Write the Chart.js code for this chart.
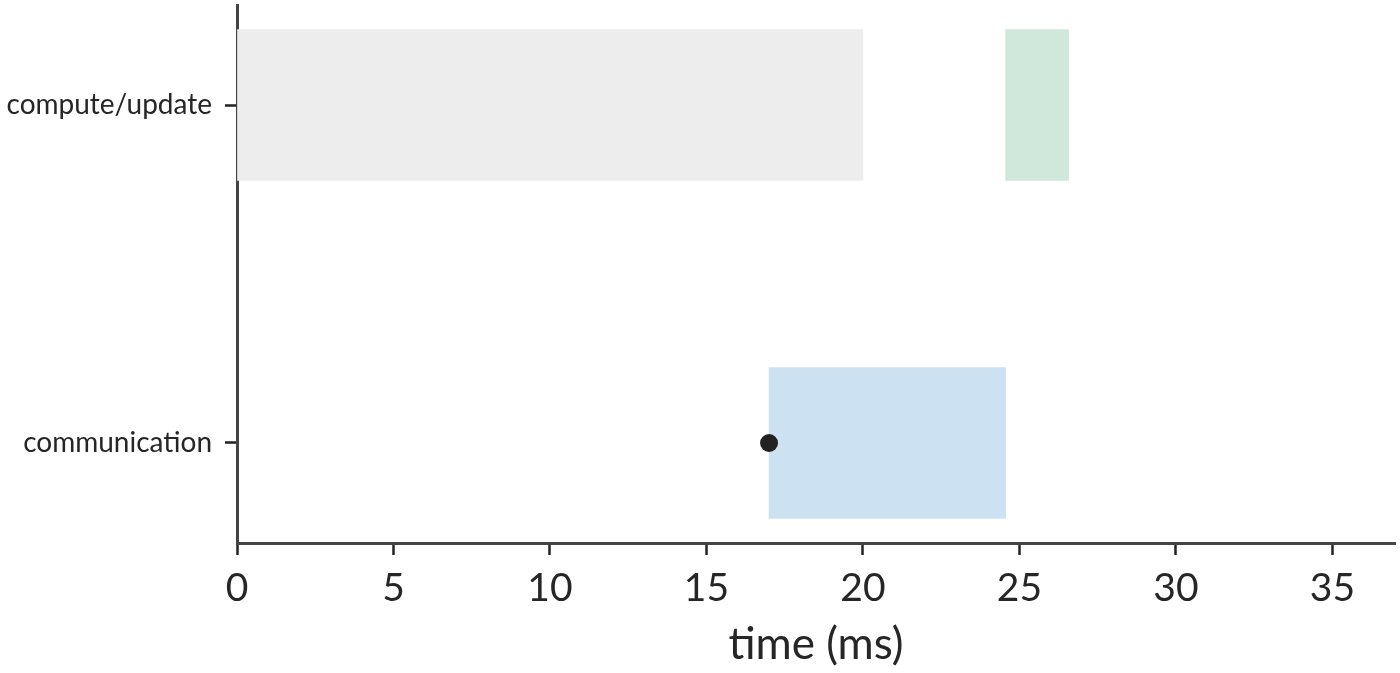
<!DOCTYPE html>
<html>
<head>
<meta charset="utf-8">
<script src="https://cdn.jsdelivr.net/npm/chart.js@4.4.1/dist/chart.umd.min.js"></script>
<style>
  html, body { margin: 0; padding: 0; background: #fff; }
  #wrap { width: 1400px; height: 673px; position: relative; }
</style>
</head>
<body>
<div id="wrap"><canvas id="timeline"></canvas></div>
<script>
// lanes of the timeline (top to bottom)
const lanes = ['compute/update', 'communication'];

// spans in ms: [start, end] and the lane they sit on
const spanStart = [0, 24.56, 17.0];
const spanEnd = [20.0, 26.57, 24.56];
const spanLane = [0, 0, 1];
const spanColors = ['#ededed', '#d0e8db', '#cce2f2'];

// marker on the communication lane
const markerTime = [17.0];
const markerLane = [1];

const xTicks = [0, 5, 10, 15, 20, 25, 30, 35];

const textColor = '#262626';
const fontFamily = 'Lato, "Noto Sans", sans-serif';

const spans = spanStart.map((s, i) => ({ x: [s, spanEnd[i]], y: spanLane[i] }));
const markers = markerTime.map((t, i) => ({ x: t, y: markerLane[i] }));

new Chart(document.getElementById('timeline').getContext('2d'), {
  type: 'bar',
  data: {
    datasets: [
      {
        type: 'bar',
        data: spans,
        backgroundColor: spanColors,
        borderWidth: 0,
        barThickness: 151,
        order: 2
      },
      {
        type: 'scatter',
        data: markers,
        backgroundColor: '#222222',
        borderWidth: 0,
        pointRadius: 9,
        pointHoverRadius: 9,
        order: 1
      }
    ]
  },
  options: {
    indexAxis: 'y',
    responsive: true,
    maintainAspectRatio: false,
    animation: false,
    layout: {
      autoPadding: false,
      padding: { top: 5, right: 5, left: 0, bottom: 0 }
    },
    plugins: {
      legend: { display: false },
      tooltip: { enabled: false }
    },
    scales: {
      x: {
        type: 'linear',
        position: 'bottom',
        min: 0,
        max: 37,
        offset: false,
        afterBuildTicks: scale => {
          scale.ticks = xTicks.map(v => ({ value: v }));
        },
        afterFit: scale => {
          scale.height = 130;
          scale.paddingLeft = 0;
          scale.paddingRight = 0;
        },
        ticks: {
          color: textColor,
          font: { family: fontFamily, size: 39 },
          padding: 10,
          maxRotation: 0
        },
        grid: {
          drawOnChartArea: false,
          drawTicks: true,
          tickLength: 12,
          tickColor: '#222222',
          tickWidth: 2.5,
          offset: false
        },
        border: { color: '#444444', width: 3 },
        title: {
          display: true,
          text: 'time (ms)',
          color: textColor,
          font: { family: fontFamily, size: 44 },
          padding: { top: 0, bottom: 2 }
        }
      },
      y: {
        type: 'linear',
        reverse: true,
        min: -0.2959,
        max: 1.2959,
        offset: false,
        afterBuildTicks: scale => {
          scale.ticks = lanes.map((l, i) => ({ value: i }));
        },
        afterFit: scale => {
          scale.width = 237;
          scale.paddingTop = 0;
          scale.paddingBottom = 0;
        },
        ticks: {
          color: textColor,
          font: { family: fontFamily, size: 28 },
          padding: 13,
          callback: v => lanes[v]
        },
        grid: {
          drawOnChartArea: false,
          drawTicks: true,
          tickLength: 12,
          tickColor: '#222222',
          tickWidth: 2.5,
          offset: false
        },
        border: { color: '#444444', width: 3 }
      }
    }
  }
});
</script>
</body>
</html>
